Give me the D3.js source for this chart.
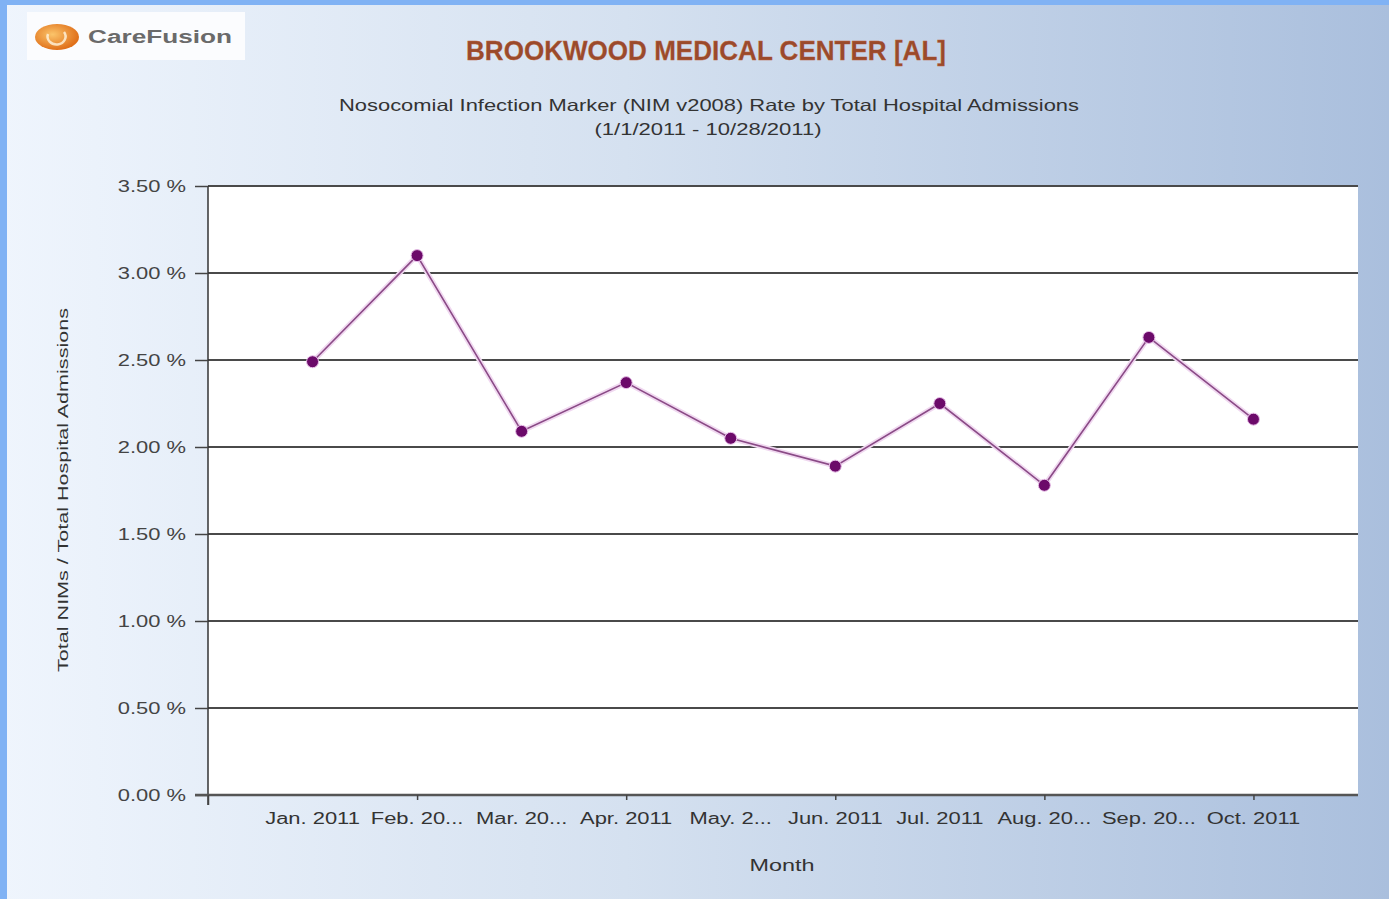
<!DOCTYPE html>
<html><head><meta charset="utf-8">
<script src="https://cdn.jsdelivr.net/npm/d3@7"></script>
<style>html,body{margin:0;padding:0;overflow:hidden;}svg{display:block;font-family:"Liberation Sans",Arial,sans-serif;}</style>
</head><body>
<script>
const months = ["Jan. 2011","Feb. 20...","Mar. 20...","Apr. 2011","May. 2...","Jun. 2011","Jul. 2011","Aug. 20...","Sep. 20...","Oct. 2011"];
const rates = [2.49, 3.10, 2.09, 2.37, 2.05, 1.89, 2.25, 1.78, 2.63, 2.16];
const yTicks = [0, 0.5, 1.0, 1.5, 2.0, 2.5, 3.0, 3.5];
const titleText = "BROOKWOOD MEDICAL CENTER [AL]";
const subtitleLines = ["Nosocomial Infection Marker (NIM v2008) Rate by Total Hospital Admissions", "(1/1/2011 - 10/28/2011)"];
const yTitle = "Total NIMs / Total Hospital Admissions";
const xTitle = "Month";

(function(){
const W = 1389, H = 899;
const SX = 1.37; // horizontal stretch of the reference lettering
function stretch(sel, f){
  sel.each(function(){
    const w = this.getComputedTextLength();
    d3.select(this).attr("textLength", w*f).attr("lengthAdjust","spacingAndGlyphs");
  });
}
const svg = d3.select("body").append("svg").attr("width", W).attr("height", H);
const defs = svg.append("defs");
const bg = defs.append("linearGradient").attr("id","bg").attr("x1","0").attr("x2","1").attr("y1","0").attr("y2","0");
bg.append("stop").attr("offset","0").attr("stop-color","#eff5fd");
bg.append("stop").attr("offset","0.45").attr("stop-color","#d5e1f0");
bg.append("stop").attr("offset","1").attr("stop-color","#aabfdd");
const lg = defs.append("radialGradient").attr("id","logo").attr("cx","0.4").attr("cy","0.4").attr("r","0.6");
lg.append("stop").attr("offset","0").attr("stop-color","#fbc46a");
lg.append("stop").attr("offset","1").attr("stop-color","#e0701a");

svg.append("rect").attr("width",W).attr("height",H).attr("fill","url(#bg)");
svg.append("rect").attr("x",0).attr("y",0).attr("width",W).attr("height",5).attr("fill","#80b2f4");
svg.append("rect").attr("x",0).attr("y",0).attr("width",7).attr("height",H).attr("fill","#80b2f4");

// logo
svg.append("rect").attr("x",27).attr("y",12).attr("width",218).attr("height",48).attr("fill","#fbfcfe");
svg.append("ellipse").attr("cx",57).attr("cy",37).attr("rx",22).attr("ry",13).attr("fill","url(#logo)");
svg.append("path").attr("d","M48,34 a9,8 0 1 0 16,-2").attr("fill","none").attr("stroke","#fff5e0").attr("stroke-width",2.5).attr("opacity",0.8);
svg.append("text").attr("x",88).attr("y",43).attr("font-size",18).attr("font-weight","bold").attr("fill","#6a6a6a")
  .attr("textLength",144).attr("lengthAdjust","spacingAndGlyphs").text("CareFusion");

// titles
svg.append("text").attr("x",706).attr("y",60).attr("text-anchor","middle").attr("font-size",27).attr("font-weight","bold")
  .attr("fill","#9a4a2c").attr("stroke","#c0663a").attr("stroke-width",0.3).attr("textLength",480).attr("lengthAdjust","spacingAndGlyphs").text(titleText);
svg.append("text").attr("x",709).attr("y",111).attr("text-anchor","middle").attr("font-size",16.5).attr("fill","#333")
  .attr("textLength",740).attr("lengthAdjust","spacingAndGlyphs").text(subtitleLines[0]);
svg.append("text").attr("x",708).attr("y",135).attr("text-anchor","middle").attr("font-size",16.5).attr("fill","#333")
  .attr("textLength",227).attr("lengthAdjust","spacingAndGlyphs").text(subtitleLines[1]);

const pL = 208, pR = 1358, pT = 186, pB = 795;
const x = d3.scaleLinear().domain([0, months.length + 1]).range([pL, pR]);
const y = d3.scaleLinear().domain([0, 3.5]).range([pB, pT]);

svg.append("rect").attr("x",pL).attr("y",pT).attr("width",pR-pL).attr("height",pB-pT).attr("fill","#ffffff");

// gridlines
svg.append("g").selectAll("line").data(yTicks.filter(d=>d>0)).join("line")
  .attr("x1",pL).attr("x2",pR).attr("y1",d=>y(d)).attr("y2",d=>y(d))
  .attr("stroke","#4a4a4a").attr("stroke-width",2);

// y axis
const yAxis = d3.axisLeft(y).tickValues(yTicks).tickSize(13).tickPadding(9).tickFormat(d=>d3.format(".2f")(d)+" %");
const gy = svg.append("g").attr("transform",`translate(${pL},0)`).call(yAxis);
gy.select(".domain").attr("stroke","#333").attr("stroke-width",1.5).attr("d",`M0,${pT}V${pB+10}`);
gy.selectAll(".tick line").attr("stroke","#444").attr("stroke-width",1.5);
gy.selectAll(".tick text").attr("font-size",16).attr("fill","#444").attr("font-family","'Liberation Sans',Arial,sans-serif").call(stretch, SX);

// x axis
const xAxis = d3.axisBottom(x).tickValues([0,2,4,6,8,10]).tickSize(5).tickFormat("");
const gx = svg.append("g").attr("transform",`translate(0,${pB})`).call(xAxis);
gx.select(".domain").attr("stroke","#555").attr("stroke-width",2.5).attr("d",`M${pL-13},0H${pR}`);
gx.selectAll(".tick line").attr("stroke","#444").attr("stroke-width",1.5);
gx.selectAll(".tick").filter(d=>d===0).select("line").attr("y2",10);

svg.append("g").selectAll("text").data(months).join("text")
  .attr("x",(d,i)=>x(i+1)).attr("y",824).attr("text-anchor","middle").attr("font-size",16).attr("fill","#333").text(d=>d)
  .call(stretch, SX);

// axis titles
svg.append("text").attr("x",782).attr("y",871).attr("text-anchor","middle").attr("font-size",16).attr("fill","#333")
  .attr("textLength",65).attr("lengthAdjust","spacingAndGlyphs").text(xTitle);
svg.append("text").attr("transform","translate(68,490) rotate(-90)").attr("text-anchor","middle").attr("font-size",15).attr("fill","#333")
  .attr("textLength",364).attr("lengthAdjust","spacingAndGlyphs").text(yTitle);

// line + points
const line = d3.line().x((d,i)=>x(i+1)).y(d=>y(d));
svg.append("path").datum(rates).attr("d",line).attr("fill","none").attr("stroke","#f0d8f0").attr("stroke-width",5);
svg.append("path").datum(rates).attr("d",line).attr("fill","none").attr("stroke","#8a4a86").attr("stroke-width",1.6);
svg.append("g").selectAll("circle").data(rates).join("circle")
  .attr("cx",(d,i)=>x(i+1)).attr("cy",d=>y(d)).attr("r",6).attr("fill","#6c0a6a").attr("stroke","#e8c0e8").attr("stroke-width",1);
})();
</script>
</body></html>
